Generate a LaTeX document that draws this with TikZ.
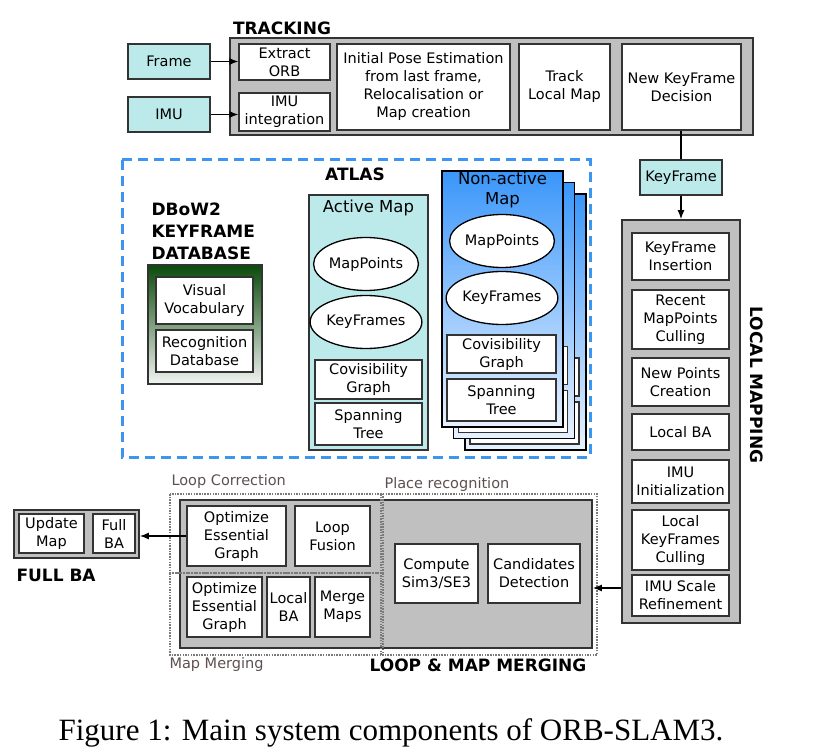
\documentclass[tikz,border=0pt]{standalone}
\usepackage{fontspec}
\setmainfont{DejaVu Sans}
\newfontfamily\captionserif{Liberation Serif}
\usetikzlibrary{arrows.meta,shapes.geometric}

\definecolor{inputcyan}{HTML}{BCEAEA}
\definecolor{panelgray}{HTML}{C0C0C0}
\definecolor{atlasblue}{HTML}{3C96F0}
\definecolor{edgegray}{HTML}{333333}
\definecolor{dotgray}{HTML}{7A7A7A}
\definecolor{labelbrown}{HTML}{5E5050}
\definecolor{dbgreen}{HTML}{0A4A0A}
\definecolor{dbpale}{HTML}{F2F4F2}
\definecolor{mapblue}{HTML}{3A96FA}
\definecolor{mappale}{HTML}{E8F2FF}

\begin{document}
\begin{tikzpicture}[x=1pt,y=-1pt,
  txt/.style={font=\fontsize{14.5}{18}\selectfont, align=center},
  proc/.style={txt, draw=edgegray, fill=white, line width=1.4pt, inner sep=0pt},
  panel/.style={draw=edgegray, fill=panelgray, line width=1.8pt, inner sep=0pt},
  input/.style={proc, fill=inputcyan},
  blob/.style={txt, draw=black, fill=white, ellipse, line width=1.3pt, inner sep=0pt},
  heading/.style={font=\fontsize{17}{22}\selectfont\bfseries},
  maptitle/.style={font=\fontsize{16.5}{20}\selectfont, align=center},
  subtitle/.style={txt, text=labelbrown, anchor=west},
  region/.style={draw=dotgray, line width=2.4pt, dash pattern=on 1.5pt off 1.2pt},
  flow/.style={-{Latex[length=9pt,width=7pt]}, line width=1.2pt}
]
  \useasboundingbox[fill=white] (0,0) rectangle (838,754);

  % Tracking
  \node[heading] (trtitle) at (282,28) {TRACKING};
  \node[panel, minimum width=523pt, minimum height=97pt] (tracking) at (491.5,86.5) {};
  \node[proc, minimum width=91pt, minimum height=36pt] (orb) at (284.5,62) {Extract\\ORB};
  \node[proc, minimum width=91pt, minimum height=38pt] (imuint) at (284.5,112) {IMU\\integration};
  \node[proc, minimum width=173pt, minimum height=86pt] (pose) at (423.5,87) {Initial Pose Estimation\\from last frame,\\Relocalisation or\\Map creation};
  \node[proc, minimum width=91pt, minimum height=86pt] (track) at (564.5,87) {Track\\Local Map};
  \node[proc, minimum width=119pt, minimum height=86pt] (decision) at (681.5,87) {New KeyFrame\\Decision};
  \node[input, minimum width=82pt, minimum height=35pt] (frame) at (169,61.5) {Frame};
  \node[input, minimum width=82pt, minimum height=35pt] (imu) at (169,114.5) {IMU};
  \draw[flow] (frame.east) -- (frame.east -| orb.west);
  \draw[flow] (imu.east) -- (imu.east -| imuint.west);

  % KeyFrame link
  \node[input, minimum width=82pt, minimum height=35pt] (kf) at (681,177.5) {KeyFrame};
  \draw[line width=1.2pt] (decision.south -| kf.north) -- (kf.north);

  % Local mapping
  \node[panel, minimum width=118pt, minimum height=403pt] (mapping) at (681,421.5) {};
  \draw[flow] (kf.south) -- (kf.south |- mapping.north);
  \node[proc, minimum width=97pt, minimum height=47pt] (insert) at (680.5,256.5) {KeyFrame\\Insertion};
  \node[proc, minimum width=97pt, minimum height=59pt] (cull) at (680.5,319.5) {Recent\\MapPoints\\Culling};
  \node[proc, minimum width=97pt, minimum height=48pt] (newpts) at (680.5,382) {New Points\\Creation};
  \node[proc, minimum width=97pt, minimum height=36pt] (localba) at (680.5,432) {Local BA};
  \node[proc, minimum width=97pt, minimum height=43pt] (imuinit) at (680.5,481.5) {IMU\\Initialization};
  \node[proc, minimum width=97pt, minimum height=60pt] (kfcull) at (680.5,540) {Local\\KeyFrames\\Culling};
  \node[proc, minimum width=97pt, minimum height=41pt] (scale) at (680.5,595.5) {IMU Scale\\Refinement};
  \node[heading, rotate=-90] (mptitle) at (757,385) {LOCAL MAPPING};

  % Atlas
  \draw[atlasblue, line width=3pt, dash pattern=on 10pt off 6pt] (122,160) rectangle (590,457);
  \node[heading] (attitle) at (355,174) {ATLAS};
  \node[heading, align=left, anchor=west] (dbtitle) at (148,231) {DBoW2\\KEYFRAME\\DATABASE};
  \node[draw=edgegray, line width=1.4pt, top color=dbgreen, bottom color=dbpale,
        minimum width=114pt, minimum height=119pt, inner sep=0pt] (database) at (205,324.5) {};
  \node[proc, minimum width=97pt, minimum height=47pt] (vocab) at (204.5,300.5) {Visual\\Vocabulary};
  \node[proc, minimum width=97pt, minimum height=42pt] (recog) at (204.5,351) {Recognition\\Database};

  % Active map
  \node[draw=edgegray, fill=inputcyan, line width=1.4pt, minimum width=119pt,
        minimum height=255pt, inner sep=0pt] (active) at (368.5,322.5) {};
  \node[maptitle] (actitle) at (368.5,208) {Active Map};
  \node[blob, minimum width=100pt, minimum height=53pt] (amp) at (366,264) {MapPoints};
  \node[blob, minimum width=100pt, minimum height=53pt] (akf) at (366,322) {KeyFrames};
  \node[proc, minimum width=107pt, minimum height=39pt] (acov) at (368.5,379.5) {Covisibility\\Graph};
  \node[proc, minimum width=107pt, minimum height=42pt] (aspan) at (368.5,424) {Spanning\\Tree};

  % Non-active maps (stacked)
  \foreach \k/\d in {2/23, 1/11.5} {
    \node[draw=black, line width=1.4pt, top color=mapblue, bottom color=mappale,
          minimum width=121pt, minimum height=256pt, inner sep=0pt] (nm\k) at ({502.5+\d},{299+\d}) {};
    \node[proc, minimum width=109pt, minimum height=38pt] (nmcov\k) at ({501.5+\d},{354+\d}) {};
    \node[proc, minimum width=109pt, minimum height=42pt] (nmspan\k) at ({501.5+\d},{400+\d}) {};
  }
  \node[draw=black, line width=1.4pt, top color=mapblue, bottom color=mappale,
        minimum width=121pt, minimum height=256pt, inner sep=0pt] (nm) at (502.5,299) {};
  \node[maptitle] (nmtitle) at (502.5,190) {Non-active\\Map};
  \node[blob, minimum width=103pt, minimum height=53pt] (nmp) at (502,241) {MapPoints};
  \node[blob, minimum width=103pt, minimum height=53pt] (nkf) at (502,298) {KeyFrames};
  \node[proc, minimum width=109pt, minimum height=38pt] (nmcov) at (501.5,354) {Covisibility\\Graph};
  \node[proc, minimum width=109pt, minimum height=42pt] (nmspan) at (501.5,400) {Spanning\\Tree};

  % Loop & map merging
  \node[panel, minimum width=412pt, minimum height=148pt] (loop) at (386,574) {};
  \draw[region] (170,494) rectangle (383,573);
  \draw[region] (170,573) rectangle (383,655);
  \draw[region] (381,494) rectangle (597,655);
  \node[subtitle] (lctitle) at (168,481) {Loop Correction};
  \node[subtitle] (prtitle) at (381,484) {Place recognition};
  \node[subtitle] (mmtitle) at (166,664) {Map Merging};
  \node[heading] (lmtitle) at (478,665) {LOOP \& MAP MERGING};
  \node[proc, minimum width=99pt, minimum height=60pt] (essential) at (236.5,536) {Optimize\\Essential\\Graph};
  \node[proc, minimum width=75pt, minimum height=60pt] (fusion) at (332.5,536) {Loop\\Fusion};
  \node[proc, minimum width=75pt, minimum height=60pt] (essential2) at (224.5,607) {Optimize\\Essential\\Graph};
  \node[proc, minimum width=43pt, minimum height=60pt] (mergeba) at (288.5,607) {Local\\BA};
  \node[proc, minimum width=55pt, minimum height=60pt] (merge) at (342.5,607) {Merge\\Maps};
  \node[proc, minimum width=83pt, minimum height=59pt] (sim3) at (436.5,573.5) {Compute\\Sim3/SE3};
  \node[proc, minimum width=92pt, minimum height=59pt] (cand) at (534,573.5) {Candidates\\Detection};
  \coordinate (lmout) at (mapping.west |- 0,588);
  \draw[flow] (lmout) -- (lmout -| loop.east);

  % Full BA
  \node[panel, minimum width=125pt, minimum height=48pt] (fullpanel) at (76.5,534) {};
  \node[proc, minimum width=65pt, minimum height=39pt] (update) at (51.5,533.5) {Update\\Map};
  \node[proc, minimum width=42pt, minimum height=39pt] (fullba) at (114,533.5) {Full\\BA};
  \node[heading, anchor=west] (fbtitle) at (13,575) {FULL BA};
  \draw[flow] (essential.west) -- (essential.west -| fullpanel.east);

  % Caption
  \node[font=\captionserif\fontsize{31}{33}\selectfont] (caption) at (391,733)
    {Figure 1: Main system components of ORB-SLAM3.};
\end{tikzpicture}
\end{document}
